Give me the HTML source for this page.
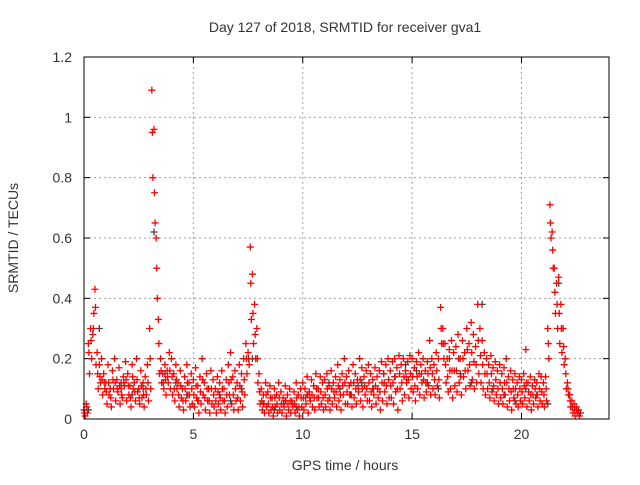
<!DOCTYPE html>
<html><head><meta charset="utf-8"><style>
html,body{margin:0;padding:0;background:#fff;}
svg text{font-family:"Liberation Sans",sans-serif;fill:#333;}
</style></head><body>
<svg id="chart" width="640" height="480" xmlns="http://www.w3.org/2000/svg">
<text x="345" y="32" font-size="14" text-anchor="middle">Day 127 of 2018, SRMTID for receiver gva1</text>
<text x="345" y="470" font-size="14" text-anchor="middle">GPS time / hours</text>
<text x="0" y="0" font-size="14" text-anchor="middle" transform="translate(18,238) rotate(-90)">SRMTID / TECUs</text>
<g id="grid"></g>
<g id="ticks"></g>
<g id="black"></g>
<g id="red"></g>
<rect x="84" y="57" width="525" height="362" fill="none" stroke="#000" stroke-width="1"/>
</svg>
<script>
const xTicks=[0,5,10,15,20];
const yTicks=[0,0.2,0.4,0.6,0.8,1,1.2];
const yTickLabels=["0","0.2","0.4","0.6","0.8","1","1.2"];
const redStep=0.1;
const redUpper=[0.03,0.05,0.25,0.3,0.28,0.43,0.22,0.18,0.2,0.15,
0.12,0.18,0.1,0.16,0.2,0.13,0.17,0.1,0.14,0.19,
0.15,0.11,0.18,0.12,0.2,0.1,0.16,0.12,0.14,0.18,
0.3,1.09,0.96,0.6,0.33,0.2,0.15,0.18,0.16,0.22,
0.2,0.15,0.18,0.12,0.16,0.1,0.14,0.18,0.12,0.15,
0.13,0.17,0.11,0.14,0.2,0.12,0.15,0.1,0.16,0.13,
0.1,0.14,0.12,0.16,0.1,0.13,0.18,0.22,0.14,0.16,
0.12,0.18,0.15,0.2,0.25,0.22,0.57,0.48,0.38,0.3,
0.15,0.1,0.08,0.12,0.09,0.11,0.07,0.1,0.08,0.12,
0.09,0.07,0.11,0.08,0.1,0.06,0.09,0.12,0.08,0.1,
0.12,0.1,0.14,0.09,0.13,0.11,0.15,0.1,0.14,0.12,
0.13,0.15,0.11,0.16,0.12,0.14,0.18,0.13,0.15,0.2,
0.14,0.16,0.12,0.18,0.15,0.13,0.2,0.17,0.14,0.16,
0.18,0.15,0.13,0.17,0.14,0.16,0.19,0.15,0.18,0.2,
0.16,0.19,0.2,0.17,0.21,0.18,0.2,0.16,0.19,0.21,
0.2,0.17,0.19,0.22,0.18,0.2,0.16,0.19,0.26,0.2,
0.18,0.22,0.2,0.37,0.3,0.25,0.2,0.23,0.26,0.22,
0.24,0.28,0.2,0.26,0.22,0.3,0.25,0.32,0.28,0.24,
0.38,0.3,0.26,0.22,0.2,0.18,0.21,0.17,0.19,0.16,
0.18,0.15,0.17,0.2,0.14,0.16,0.13,0.15,0.12,0.14,
0.13,0.15,0.23,0.12,0.14,0.11,0.13,0.12,0.15,0.14,
0.12,0.14,0.3,0.71,0.62,0.5,0.45,0.47,0.38,0.3,
0.2,0.12,0.08,0.06,0.05,0.04,0.03];
const redMid=[0.02,0.04,0.22,0.26,0.3,0.37,0.15,0.14,0.13,0.12,
0.09,0.12,0.07,0.13,0.12,0.1,0.11,0.08,0.12,0.13,
0.11,0.07,0.14,0.09,0.13,0.07,0.11,0.08,0.1,0.12,
0.2,0.95,0.75,0.5,0.25,0.16,0.12,0.13,0.14,0.16,
0.14,0.1,0.13,0.08,0.11,0.06,0.1,0.12,0.08,0.1,
0.08,0.11,0.06,0.09,0.13,0.07,0.1,0.06,0.1,0.08,
0.06,0.09,0.07,0.1,0.06,0.08,0.12,0.13,0.08,0.1,
0.07,0.11,0.09,0.13,0.2,0.2,0.45,0.35,0.28,0.2,
0.09,0.06,0.05,0.08,0.05,0.07,0.04,0.07,0.05,0.07,
0.05,0.05,0.06,0.05,0.06,0.05,0.05,0.07,0.04,0.07,
0.07,0.07,0.08,0.07,0.08,0.07,0.1,0.07,0.09,0.07,
0.08,0.1,0.07,0.1,0.09,0.09,0.11,0.08,0.11,0.12,
0.09,0.11,0.08,0.12,0.1,0.11,0.13,0.1,0.11,0.1,
0.12,0.09,0.1,0.11,0.1,0.09,0.12,0.12,0.11,0.13,
0.11,0.12,0.14,0.1,0.15,0.12,0.14,0.14,0.13,0.15,
0.14,0.11,0.14,0.15,0.15,0.13,0.12,0.15,0.17,0.15,
0.13,0.16,0.13,0.3,0.25,0.18,0.14,0.16,0.16,0.16,
0.16,0.2,0.14,0.2,0.16,0.23,0.18,0.22,0.19,0.18,
0.26,0.21,0.18,0.15,0.15,0.12,0.15,0.11,0.13,0.1,
0.12,0.1,0.12,0.12,0.1,0.09,0.1,0.1,0.08,0.1,
0.09,0.11,0.12,0.09,0.08,0.08,0.1,0.08,0.1,0.09,
0.08,0.1,0.25,0.65,0.56,0.42,0.38,0.35,0.3,0.24,
0.15,0.1,0.06,0.04,0.03,0.03,0.02];
const redLower=[0.01,0.02,0.15,0.2,0.35,0.18,0.1,0.12,0.08,0.1,
0.05,0.08,0.04,0.1,0.06,0.09,0.05,0.07,0.11,0.06,
0.08,0.04,0.1,0.06,0.09,0.05,0.07,0.04,0.08,0.06,
0.1,0.8,0.65,0.4,0.15,0.12,0.1,0.08,0.12,0.1,
0.08,0.06,0.1,0.04,0.07,0.03,0.06,0.08,0.04,0.05,
0.04,0.07,0.02,0.05,0.08,0.03,0.06,0.02,0.05,0.04,
0.02,0.05,0.03,0.06,0.02,0.04,0.08,0.05,0.03,0.06,
0.03,0.06,0.04,0.08,0.15,0.18,0.33,0.25,0.2,0.12,
0.05,0.03,0.02,0.04,0.02,0.03,0.01,0.04,0.02,0.03,
0.02,0.04,0.01,0.03,0.02,0.04,0.02,0.03,0.01,0.04,
0.03,0.05,0.02,0.06,0.04,0.03,0.07,0.04,0.05,0.03,
0.04,0.06,0.03,0.05,0.07,0.04,0.06,0.03,0.08,0.05,
0.05,0.08,0.04,0.07,0.05,0.09,0.06,0.04,0.08,0.06,
0.06,0.04,0.08,0.05,0.07,0.03,0.06,0.09,0.05,0.07,
0.07,0.05,0.09,0.03,0.1,0.06,0.08,0.12,0.07,0.1,
0.09,0.06,0.1,0.08,0.12,0.07,0.09,0.11,0.08,0.1,
0.08,0.11,0.07,0.25,0.2,0.12,0.09,0.1,0.07,0.11,
0.09,0.12,0.08,0.14,0.1,0.16,0.11,0.13,0.1,0.12,
0.15,0.12,0.1,0.08,0.1,0.07,0.09,0.06,0.08,0.05,
0.07,0.05,0.08,0.04,0.06,0.03,0.07,0.05,0.04,0.06,
0.05,0.07,0.04,0.06,0.03,0.05,0.07,0.04,0.06,0.05,
0.04,0.06,0.2,0.6,0.5,0.35,0.3,0.25,0.22,0.18,
0.1,0.08,0.04,0.02,0.01,0.02,0.01];
const blackStep=0.5;
const blackValues=[0.03,0.3,0.1,0.12,0.08,0.1,0.62,0.15,0.12,0.08,0.06,0.1,0.08,0.06,0.1,0.2,0.05,0.03,0.06,0.04,0.08,0.1,0.12,0.1,0.08,0.12,0.1,0.15,0.14,0.18,0.16,0.12,0.1,0.2,0.15,0.12,0.38,0.1,0.08,0.06,0.1,0.08,0.05,0.45,0.08,0.02];

const NS="http://www.w3.org/2000/svg";
const X0=84,X1=609,Y0=419,Y1=57;
function xs(v){return X0+(v/24)*(X1-X0);}
function ys(v){return Y0-(v/1.2)*(Y0-Y1);}
function mk(tag,attrs,parent){const e=document.createElementNS(NS,tag);for(const k in attrs)e.setAttribute(k,attrs[k]);parent.appendChild(e);return e;}
const grid=document.getElementById('grid'),ticks=document.getElementById('ticks');
xTicks.forEach(t=>{
  const x=xs(t);
  if(t>0){const l=mk('line',{x1:x,x2:x,y1:Y1,y2:Y0,stroke:'#a0a0a0','stroke-dasharray':'2,3'},grid);
  
  }
  const a=mk('line',{x1:x,x2:x,y1:Y0,y2:Y0-6,stroke:'#000'},ticks);
  
  
  const b=mk('line',{x1:x,x2:x,y1:Y1,y2:Y1+6,stroke:'#000'},ticks);
  
  
  const tx=mk('text',{x:x,y:Y0+20,'font-size':14,'text-anchor':'middle'},ticks);
  tx.textContent=String(t);
  
  
});
yTicks.forEach((t,i)=>{
  const y=ys(t);
  if(t>0&&t<1.2){const l=mk('line',{x1:X0,x2:X1,y1:y,y2:y,stroke:'#a0a0a0','stroke-dasharray':'2,3'},grid);
  
  }
  const a=mk('line',{x1:X0,x2:X0+6,y1:y,y2:y,stroke:'#000'},ticks);
  
  
  const b=mk('line',{x1:X1,x2:X1-6,y1:y,y2:y,stroke:'#000'},ticks);
  
  
  const tx=mk('text',{x:X0-12,y:y+5,'font-size':14,'text-anchor':'end'},ticks);
  tx.textContent=yTickLabels[i];
  
  
});
function plus(g,t,v,color){
  const x=xs(t),y=ys(v);
  const p=mk('path',{d:`M${x-3.5},${y}H${x+3.5}M${x},${y-3.5}V${y+3.5}`,stroke:color,'stroke-width':1.3,fill:'none'},g);
  
  
}
const bg=document.getElementById('black'),rg=document.getElementById('red');
blackValues.forEach((v,i)=>plus(bg,i*blackStep+0.2,v,'#404040'));
redUpper.forEach((v,i)=>plus(rg,i*redStep,v,'#ff0000'));
redMid.forEach((v,i)=>plus(rg,i*redStep+0.025,v,'#ff0000'));
redLower.forEach((v,i)=>plus(rg,i*redStep+0.05,v,'#ff0000'));
</script>
</body></html>
